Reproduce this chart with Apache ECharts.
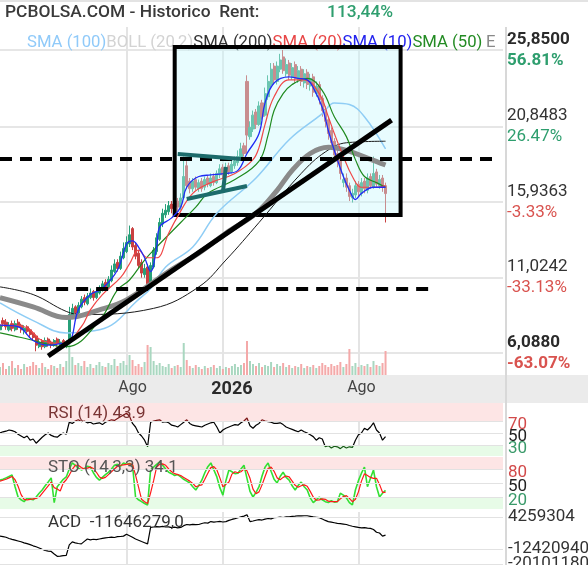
<!DOCTYPE html>
<html><head><meta charset="utf-8">
<script src="https://cdn.jsdelivr.net/npm/echarts@6/dist/echarts.min.js"></script>
<style>html,body{margin:0;padding:0;background:#fff}#c{width:588px;height:565px}</style>
</head><body><div id="c"></div>
<script>
// ---------- data ----------
const categoryCount = 168;
const xTickLabels = ['Ago', '2026', 'Ago'];
const xTickIdx = [44, 77, 120];
const xGridIdx = [42, 74, 119];

const opens = [
7.6,8.2,8.1,7.6,8.0,7.6,8.1,7.9,7.5,7.8,
7.6,7.4,7.2,6.5,6.9,6.5,7.0,6.8,6.6,7.0,
6.6,6.9,6.5,6.8,8.4,9.1,8.7,9.1,9.7,9.3,
9.7,10.1,9.7,10.0,10.2,10.7,10.4,10.8,11.4,12.0,
11.6,12.3,12.7,13.2,14.2,13.1,12.6,12.0,11.2,11.7,
10.7,11.7,12.7,13.5,14.5,15.1,15.3,15.8,15.4,16.0,
15.6,16.2,18.3,17.3,16.8,17.4,16.8,17.3,16.9,17.5,
17.0,17.6,17.2,17.7,18.2,17.7,18.3,17.9,18.3,18.5,
18.8,19.6,23.8,20.2,20.7,21.8,21.0,22.4,21.6,22.8,
23.6,24.8,23.8,24.6,25.4,24.3,25.0,24.1,24.9,23.9,
24.6,23.7,24.4,23.5,24.1,23.0,23.6,22.7,22.0,21.3,
20.6,19.9,19.1,18.7,17.2,17.5,17.0,16.2,16.4,17.1,
16.5,17.3,16.7,17.6,16.9,17.9,17.0,17.5,17.0];
const closes = [
7.9,8.0,7.8,7.9,7.7,8.0,7.8,7.6,7.7,7.5,
7.3,7.1,6.6,6.8,6.5,6.9,6.7,6.6,6.9,6.7,
6.8,6.6,6.8,8.6,9.0,8.7,9.2,9.6,9.4,9.8,
10.0,9.7,10.1,10.3,10.6,10.4,10.9,11.5,11.9,11.6,
12.4,12.9,13.3,13.8,13.0,12.4,11.8,11.3,11.6,10.6,
11.8,12.8,13.6,14.6,15.2,15.4,15.7,15.5,15.9,15.6,
16.2,17.6,17.0,16.8,17.3,16.9,17.2,16.8,17.4,17.1,
17.5,17.2,17.8,18.1,17.7,18.2,17.9,18.4,18.6,18.9,
19.4,19.1,20.3,20.8,21.6,21.0,22.2,21.5,23.0,23.8,
24.6,23.9,24.8,25.2,24.5,24.9,24.2,24.7,24.0,24.5,
23.8,24.3,23.6,24.0,23.1,23.5,22.6,21.9,21.2,20.4,
19.8,19.0,18.6,17.8,17.4,16.9,16.3,16.5,17.0,16.6,
17.2,16.8,17.5,17.0,17.8,17.1,17.4,16.9,16.485];
const lows = [
7.4,7.8,7.6,7.5,7.5,7.5,7.6,7.4,7.3,7.3,
7.1,6.9,6.2,6.4,6.3,6.4,6.5,6.4,6.5,6.5,
6.5,6.4,6.4,6.7,8.3,8.5,8.6,9.0,9.2,9.2,
9.6,9.5,9.6,9.9,10.1,10.2,10.3,10.7,11.3,11.4,
11.5,12.2,12.6,13.0,12.8,12.2,11.6,11.0,11.0,10.3,
10.5,11.6,12.5,13.4,14.3,14.9,15.1,15.2,15.2,15.3,
15.4,16.1,16.8,16.5,16.6,16.7,16.6,16.6,16.7,16.9,
16.9,17.0,17.1,17.5,17.5,17.6,17.7,17.8,18.1,18.3,
18.7,18.9,19.1,20.0,20.5,20.7,20.9,21.3,21.5,22.6,
23.4,23.6,23.6,24.4,24.3,24.1,23.9,23.9,23.7,23.7,
23.5,23.4,23.3,23.2,22.8,22.8,22.3,21.5,20.8,20.0,
19.4,18.6,18.2,17.4,16.9,16.6,16.0,15.9,16.2,16.3,
16.3,16.5,16.5,16.8,16.8,16.9,16.8,16.6,14.6];
const highs = [
8.1,8.4,8.3,8.1,8.2,8.2,8.3,8.0,7.9,7.9,
7.7,7.5,7.3,7.0,7.0,7.1,7.1,6.9,7.0,7.1,
7.0,7.0,6.9,9.1,9.3,9.2,9.4,9.8,9.9,10.0,
10.3,10.2,10.3,10.5,10.8,10.9,11.1,11.8,12.2,12.2,
12.7,13.3,13.7,14.4,14.3,13.3,12.8,12.2,11.9,11.9,
12.0,13.0,13.9,14.9,15.5,15.8,16.0,16.0,16.2,16.2,
16.5,18.9,18.6,17.5,17.5,17.6,17.4,17.5,17.6,17.7,
17.8,17.8,18.0,18.4,18.4,18.5,18.5,18.7,18.9,19.3,
19.8,19.8,24.2,21.2,21.9,22.0,22.5,22.6,23.4,24.2,
25.0,25.0,25.1,25.6,25.85,25.3,25.2,25.0,25.1,24.8,
24.8,24.6,24.6,24.3,24.3,23.8,23.8,22.9,22.2,21.5,
20.8,20.1,19.4,18.9,17.8,17.8,17.2,16.8,17.3,17.3,
17.5,17.5,17.8,17.8,18.9,18.1,17.7,17.7,17.2];
const volumes = [
8,12,6,9,14,7,10,6,11,8,
9,13,10,7,12,8,6,10,9,7,
11,8,14,35,18,10,12,9,14,8,
11,7,10,13,9,8,12,10,16,9,
12,14,10,20,15,9,11,8,13,30,
28,14,10,12,9,8,11,7,9,10,
8,32,15,9,7,10,8,6,9,7,
8,10,7,9,6,8,7,9,11,8,
10,12,34,14,11,9,12,8,10,9,
13,8,11,9,12,8,10,7,9,8,
11,7,9,8,10,7,9,12,10,8,
11,9,10,13,8,11,26,9,12,8,
10,9,11,8,14,10,9,12,24];

// moving averages read at sample candles: [candle index, price]
const sma10 = [[0,7.9],[6,7.8],[11,6.9],[16,6.6],[20,6.7],[23,6.8],[26,8.9],[30,9.9],[34,10.3],[39,11.5],[42,13.2],[44,13.4],[46,13.0],[48,12.3],[50,11.4],[52,13.0],[53,14.3],[57,14.9],[60,15.6],[62,16.9],[66,17.6],[70,17.7],[75,17.8],[79,18.0],[82,19.1],[86,20.4],[88,22.4],[91,23.7],[96,24.1],[99,24.0],[102,23.9],[104,23.4],[107,22.1],[109,20.6],[111,19.3],[114,17.6],[116,16.7],[118,16.1],[120,16.5],[124,16.9],[128,16.9]];
const sma20 = [[0,7.9],[8,7.8],[14,6.9],[21,6.7],[27,7.8],[30,8.9],[34,9.9],[40,11.0],[43,11.9],[46,12.8],[49,12.3],[52,12.3],[56,13.9],[59,15.0],[64,16.5],[70,17.2],[78,17.8],[84,18.7],[86,19.5],[88,21.0],[91,22.8],[96,23.9],[101,23.9],[106,23.0],[109,21.5],[111,20.4],[114,18.9],[117,17.6],[120,16.9],[125,16.9],[128,17.0]];
const sma50 = [[0,7.4],[7,7.1],[22,6.5],[33,8.2],[39,10.2],[43,10.85],[48,12.15],[52,13.0],[60,14.6],[65,15.6],[69,16.5],[78,17.4],[86,18.6],[89,20.3],[91,21.9],[94,23.0],[97,23.6],[102,24.0],[107,23.2],[111,21.5],[115,20.2],[118,18.7],[121,17.6],[125,17.2],[128,16.9]];
const sma100 = [[0,9.35],[11,8.2],[22,7.4],[30,7.5],[37,7.9],[45,9.4],[50,10.3],[55,11.7],[64,13.0],[72,15.2],[85,17.5],[96,20.0],[107,21.7],[111,22.4],[116,22.3],[121,21.5],[128,19.4]];
const sma200 = [[0,10.4],[11,9.9],[22,8.8],[27,8.6],[51,9.0],[66,10.4],[75,12.15],[86,14.6],[100,17.8],[108,19.2],[115,19.8],[128,19.9]];
const ema200 = [[0,9.7],[11,9.1],[22,8.4],[33,8.9],[42,9.55],[56,11.4],[66,12.6],[75,13.9],[85,15.2],[92,16.7],[97,18.0],[103,19.1],[109,19.5],[115,19.3],[122,18.8],[128,18.35]];

const rsi = [
50,52,53,55,54,52,48,45,42,45,
38,40,33,38,43,47,50,46,44,43,
47,50,48,68,66,70,72,69,70,67,
68,65,66,67,64,68,70,72,71,74,
77,80,83,78,66,60,50,45,38,27,
68,70,71,72,68,69,67,63,62,60,
64,68,72,66,63,62,61,60,63,65,
67,68,60,50,55,58,60,62,64,63,
67,70,75,62,58,63,66,72,70,69,
68,66,66,67,64,60,58,56,54,52,
55,52,50,47,44,38,42,40,27,29,
25,28,27,24,28,25,27,26,38,47,
50,58,55,60,67,55,50,38,43.9];
const stoK = [
56,58,61,64,67,42,20,14,10,18,
16,14,20,28,35,44,52,61,8,42,
50,58,63,80,93,88,82,78,81,86,
84,72,62,56,62,68,73,80,88,90,
86,93,90,92,88,20,14,10,6,3,
78,84,90,95,88,80,73,70,66,68,
63,58,54,50,42,35,45,56,72,85,
93,78,63,40,24,55,78,74,70,71,
80,88,60,32,20,30,42,65,84,93,
75,58,50,64,73,62,56,44,35,45,
52,42,35,18,8,14,20,14,10,8,
12,9,10,28,24,18,8,3,35,55,
71,84,42,60,78,42,20,28,34.1];
const stoD = [
54,56,58,61,64,57,43,25,15,14,
15,16,17,20,28,36,44,52,40,37,
33,50,57,67,79,88,88,83,80,82,
84,81,73,63,60,62,68,74,80,86,
88,89,90,91,90,67,41,15,10,6,
29,55,84,90,91,88,80,74,70,68,
66,62,58,54,49,42,44,46,58,71,
83,85,78,61,42,47,52,69,74,72,
74,80,76,60,37,27,31,46,64,81,
84,75,61,57,62,65,63,54,45,41,
44,46,43,32,20,13,14,16,15,11,
10,10,10,16,21,23,17,10,15,31,
54,70,66,62,60,60,47,30,30];
// ACD in millions
const acd = [
-5.7,-6.0,-6.3,-6.9,-7.4,-7.8,-8.2,-8.6,-9.2,-9.6,
-10.1,-10.7,-11.2,-11.8,-12.5,-13.1,-13.4,-13.6,-14.9,-16.1,
-16.0,-15.8,-15.6,-10.2,-8.7,-9.2,-9.5,-9.7,-8.4,-7.2,
-7.6,-7.3,-7.5,-7.2,-6.9,-6.6,-6.4,-6.2,-6.4,-6.0,
-5.9,-5.7,-4.7,-5.5,-6.3,-7.2,-7.8,-8.5,-9.1,-9.7,
-1.2,-1.0,-0.8,-0.9,-0.7,-1.0,-0.9,-1.3,-1.1,-1.4,
-1.2,-0.3,0.3,0.1,0.4,0.2,0.3,0.8,1.2,1.0,
1.8,1.5,1.7,1.9,1.6,1.8,2.4,2.9,3.3,3.8,
4.2,4.6,5.3,1.8,2.1,2.5,2.8,2.6,3.1,3.4,
3.2,3.8,3.9,4.1,3.9,4.2,4.3,4.5,4.6,4.8,
4.7,4.8,4.8,4.5,4.2,4.0,3.8,3.1,2.4,1.8,
1.5,1.2,0.9,0.7,0.5,0.3,-0.2,-0.6,-0.9,-1.2,
-1.4,-1.3,-1.6,-1.7,-2.3,-3.7,-4.1,-5.7,-5.2];

// axis ticks
const priceTicks = [25.85, 20.8483, 15.9363, 11.0242, 6.088];
const priceTickLabels = ['25,8500', '20,8483', '15,9363', '11,0242', '6,0880'];
const pctLabels = ['56.81%', '26.47%', '-3.33%', '-33.13%', '-63.07%'];
const rsiTicks = [70, 50, 30];
const stoTicks = [80, 50, 20];
const acdTicks = [4.259304, -12.42094, -20.10118];
const acdTickLabels = ['4259304', '-12420940', '-20101180'];

// drawings (data coordinates: [candle index, price])
const boxCorners = [[58, 26.05], [133, 15.09]];
const trendLine = [[16, 5.89], [130, 21.28]];
const dashedLevels = [[0, 165, 18.74], [12, 144, 10.26]];
const patternLines = [[[59, 19.07], [80, 18.74]], [[62, 16.13], [82, 16.98]], [[75, 18.22], [74, 16.59]]];

// ---------- chart ----------
const cats = Array.from({length: categoryCount}, (_, i) => String(i));
const chart = echarts.init(document.getElementById('c'), null, {renderer: 'canvas'});

function nearest(arr, v) {
  let b = 0; for (let i = 1; i < arr.length; i++) if (Math.abs(arr[i] - v) < Math.abs(arr[b] - v)) b = i; return b;
}
const UP = '#27a079', DOWN = '#c94040';

function maLine(data, color, width) {
  return {type: 'line', xAxisIndex: 0, yAxisIndex: 0, data, symbol: 'none', smooth: 0.4, silent: true,
    lineStyle: {color, width}};
}

const xAxes = [0, 1, 2, 3].map(g => ({
  type: 'category', gridIndex: g, data: cats, boundaryGap: false,
  axisLine: {show: false}, axisTick: {show: false},
  splitLine: {show: true, interval: (i) => xGridIdx.includes(i), lineStyle: {color: '#e4e4e4', width: 2}},
  axisLabel: g === 0 ? {
    interval: (i) => xTickIdx.includes(i), margin: 5, fontSize: 16, color: '#444',
    formatter: (v) => { const k = xTickIdx.indexOf(Number(v)); return k === 1 ? '{b|' + xTickLabels[k] + '}' : xTickLabels[k]; },
    rich: {b: {fontSize: 18, fontWeight: 'bold', color: '#2a2a2a'}}
  } : {show: false}
}));

const levelRich = {
  r: {color: '#d24a4a', fontSize: 17}, k: {color: '#222', fontSize: 17}, g: {color: '#3a9a6a', fontSize: 17}
};
function levelMarks(ticks) {
  return {silent: true, symbol: ['none', 'none'],
    lineStyle: {color: '#e2e2e2', width: 1, type: 'solid'},
    label: {show: true, position: 'end', distance: 5, padding: [8, 0, 0, 0],
      formatter: (p) => { const i = nearest(ticks, p.value); return '{' + ['r', 'k', 'g'][i] + '|' + ticks[i] + '}'; },
      rich: levelRich},
    data: ticks.map(v => ({yAxis: v}))};
}
function plainAxis(grid, min, max) {
  return {type: 'value', gridIndex: grid, position: 'right', min, max,
    axisLine: {show: false}, axisTick: {show: false}, splitLine: {show: false}, axisLabel: {show: false}};
}

const markLines = [];
markLines.push([{coord: trendLine[0], lineStyle: {color: '#000', width: 5, type: 'solid'}}, {coord: trendLine[1]}]);
dashedLevels.forEach(d => markLines.push([{coord: [d[0], d[2]], lineStyle: {color: '#000', width: 4, type: [12, 8]}}, {coord: [d[1], d[2]]}]));
patternLines.forEach(p => markLines.push([{coord: p[0], lineStyle: {color: '#1c6b6b', width: 4, type: 'solid'}}, {coord: p[1]}]));

const legendSize = 16.7;
const option = {
  animation: false,
  textStyle: {fontFamily: 'Roboto'},
  title: [
    {left: 5, top: 4, padding: 0, text: 'PCBOLSA.COM - Historico  Rent:', textStyle: {fontSize: 17.4, fontWeight: 500, color: '#3a3a3a'}},
    {left: 327, top: 4, padding: 0, text: '113,44%', textStyle: {fontSize: 17.4, fontWeight: 500, color: '#2e9e6e'}},
    {left: 27, top: 34, padding: 0, z: 0,
      text: '{a|SMA (100)}{b|BOLL (20,2)}{c|SMA (200)}{d|SMA (20)}{e|SMA (10)}{f|SMA (50)}',
      textStyle: {fontSize: legendSize, fontWeight: 'normal',
        rich: {a: {color: '#90caf9', fontSize: legendSize}, b: {color: '#d3d3d3', fontSize: legendSize}, c: {color: '#333', fontSize: legendSize},
          d: {color: '#e84545', fontSize: legendSize}, e: {color: '#2222ee', fontSize: legendSize}, f: {color: '#238b23', fontSize: legendSize}}}},
    {left: 486, top: 34, padding: 0, z: 0, text: 'EMA (200)',
      textStyle: {fontSize: legendSize, fontWeight: 'normal', color: '#888', width: 17, overflow: 'truncate', ellipsis: ''}},
    {left: 48, top: 405, padding: 0, text: 'RSI (14) 43.9', textStyle: {fontSize: 17, fontWeight: 'normal', color: '#7a3535'}},
    {left: 48, top: 459, padding: 0, text: 'STO (14,3,3) 34.1', textStyle: {fontSize: 17, fontWeight: 'normal', color: '#555'}},
    {left: 48, top: 514, padding: 0, text: 'ACD  -11646279,0', textStyle: {fontSize: 17, fontWeight: 'normal', color: '#333'}}
  ],
  graphic: [
    {type: 'rect', z: -1, shape: {x: 0, y: 375, width: 588, height: 28}, style: {fill: '#ebebeb'}},
    {type: 'rect', shape: {x: 0, y: 0, width: 588, height: 2}, style: {fill: '#e3e3e3'}},
    {type: 'rect', shape: {x: 505, y: 27, width: 2, height: 538}, style: {fill: '#d8d8d8'}}
  ],
  grid: [
    {left: 0, top: 27, width: 503, height: 348},
    {left: 0, top: 403, width: 503, height: 53},
    {left: 0, top: 457, width: 503, height: 52},
    {left: 0, top: 512, width: 503, height: 55}
  ],
  xAxis: xAxes,
  yAxis: [
    {type: 'value', gridIndex: 0, position: 'right', min: 4.6531, max: 27.3501,
      axisLine: {show: false}, axisTick: {show: false, customValues: priceTicks},
      splitLine: {show: true, lineStyle: {color: '#e6e6e6', width: 2}},
      axisLabel: {customValues: priceTicks, margin: 4,
        formatter: (v) => {
          const i = nearest(priceTicks, v); const strong = (i === 0 || i === priceTicks.length - 1);
          const pc = pctLabels[i].charAt(0) === '-' ? 'r' : 'g';
          return '{' + (strong ? 'pb' : 'p') + '|' + priceTickLabels[i] + '}\n{' + pc + (strong ? 'b' : '') + '|' + pctLabels[i] + '}';
        },
        rich: {
          p: {fontSize: 17, color: '#333', lineHeight: 21}, pb: {fontSize: 17, fontWeight: 'bold', color: '#2a2a2a', lineHeight: 21},
          g: {fontSize: 17, color: '#2e9e6e', lineHeight: 21}, gb: {fontSize: 17, fontWeight: 'bold', color: '#2e9e6e', lineHeight: 21},
          r: {fontSize: 17, color: '#d9534f', lineHeight: 21}, rb: {fontSize: 17, fontWeight: 'bold', color: '#d9534f', lineHeight: 21}
        }}},
    {type: 'value', gridIndex: 0, min: 0, max: 348, show: false},
    plainAxis(1, 11.7, 100),
    plainAxis(2, -5.7, 105.7),
    plainAxis(3, -20.598346, 6.745069)
  ],
  visualMap: [{type: 'piecewise', show: false, seriesIndex: 8, dimension: 1,
    pieces: [{gt: 70, color: '#7a1515'}, {lt: 30, color: '#155a15'}, {gte: 30, lte: 70, color: '#000'}]}],
  series: [
    {type: 'bar', xAxisIndex: 0, yAxisIndex: 1, barWidth: 2, silent: true, z: 1,
      data: volumes.map((v, i) => ({value: v, itemStyle: {color: closes[i] >= opens[i] ? '#a9d7c0' : '#f4a9a9'}}))},
    {type: 'candlestick', xAxisIndex: 0, yAxisIndex: 0, barWidth: 2.6, silent: true,
      data: opens.map((o, i) => [o, closes[i], lows[i], highs[i]]),
      itemStyle: {color: UP, color0: DOWN, borderColor: UP, borderColor0: DOWN, borderWidth: 1},
      markArea: {z: 3, silent: true, itemStyle: {color: 'rgba(200,247,252,0.42)', borderColor: '#000', borderWidth: 4},
        data: [[{coord: boxCorners[0]}, {coord: boxCorners[1]}]]},
      markLine: {z: 5, silent: true, symbol: ['none', 'none'], label: {show: false}, data: markLines}},
    maLine(sma100, '#8fcdf5', 1.5),
    maLine(sma200, '#1a1a1a', 1),
    maLine(ema200, '#8a8a8a', 5),
    maLine(sma50, '#1f8a1f', 1.2),
    maLine(sma20, '#f04848', 1.2),
    maLine(sma10, '#1f2cf5', 1.3),
    {type: 'line', xAxisIndex: 1, yAxisIndex: 2, data: rsi, symbol: 'none', silent: true, lineStyle: {width: 1.2},
      markLine: levelMarks(rsiTicks),
      markArea: {silent: true, data: [[{yAxis: 70, itemStyle: {color: '#fde5e5'}}, {yAxis: 100}], [{yAxis: 11.7, itemStyle: {color: '#e7fbe7'}}, {yAxis: 30}]]}},
    {type: 'line', xAxisIndex: 2, yAxisIndex: 3, data: stoK, symbol: 'none', silent: true, lineStyle: {color: '#33e033', width: 1.6},
      markLine: levelMarks(stoTicks),
      markArea: {silent: true, data: [[{yAxis: 80, itemStyle: {color: '#fde5e5'}}, {yAxis: 105.7}], [{yAxis: -5.7, itemStyle: {color: '#e7fbe7'}}, {yAxis: 20}]]}},
    {type: 'line', xAxisIndex: 2, yAxisIndex: 3, data: stoD, symbol: 'none', silent: true, lineStyle: {color: '#ff1a1a', width: 1.2}},
    {type: 'line', xAxisIndex: 3, yAxisIndex: 4, data: acd, symbol: 'none', silent: true, lineStyle: {color: '#000', width: 1.2},
      markLine: {silent: true, symbol: ['none', 'none'], lineStyle: {color: '#e2e2e2', width: 1, type: 'solid'},
        label: {show: true, position: 'end', distance: 5, fontSize: 17, color: '#333',
          formatter: (p) => acdTickLabels[nearest(acdTicks, p.value)]},
        data: acdTicks.map(v => ({yAxis: v}))}}
  ]
};
chart.setOption(option);
</script></body></html>
